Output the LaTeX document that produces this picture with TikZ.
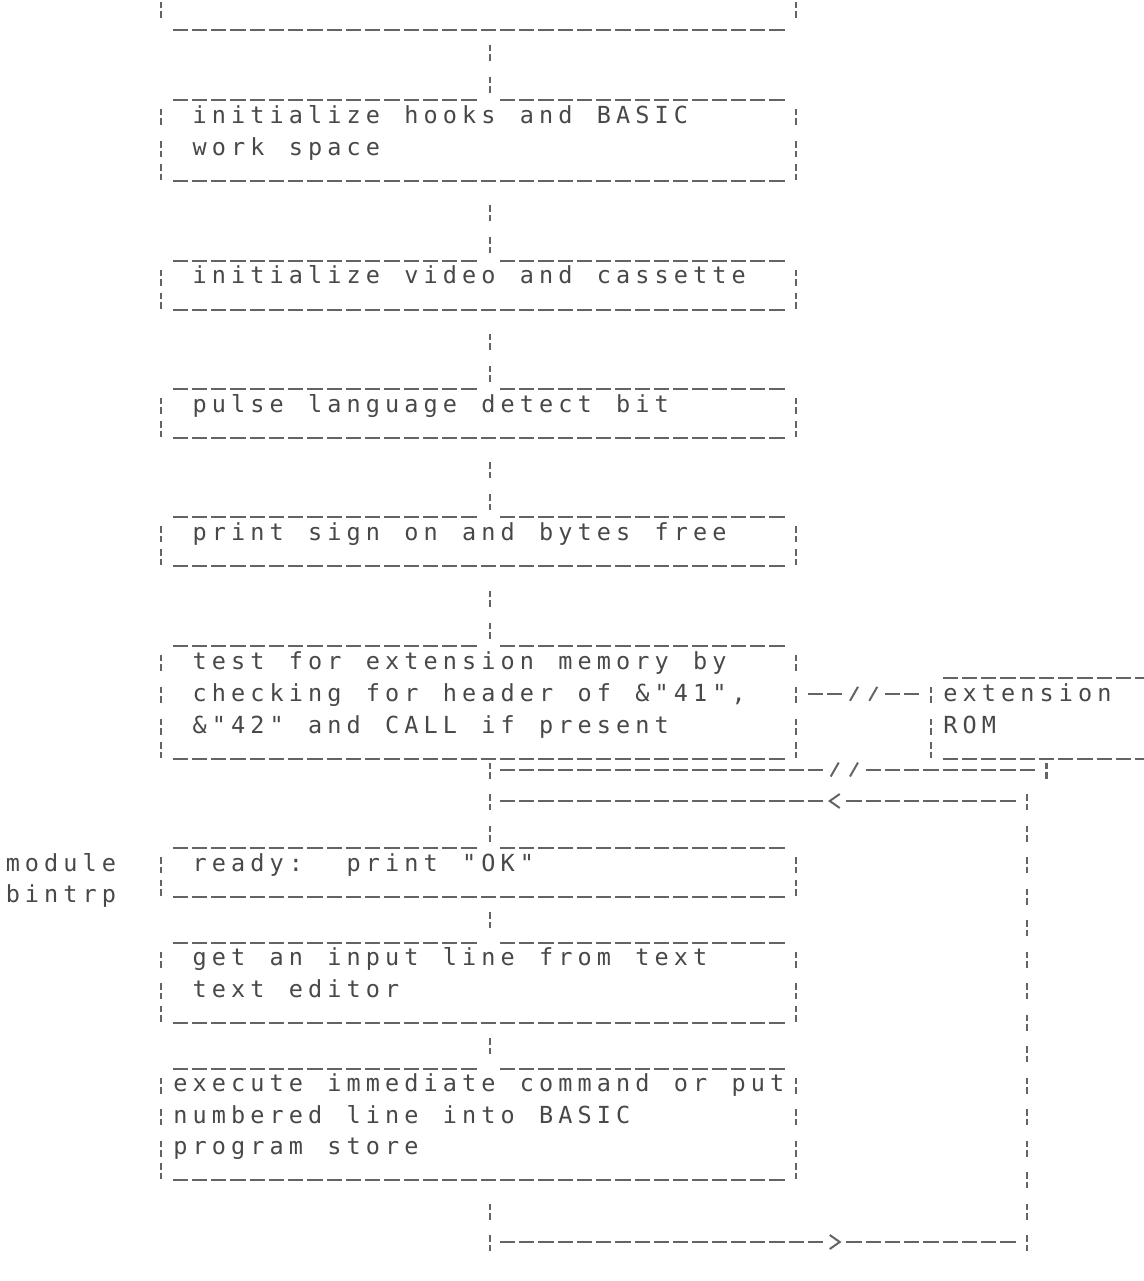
\documentclass[tikz,border=0pt]{standalone}
\usepackage{fontspec}
\newfontfamily\dmfont{DejaVu Sans Mono}
\definecolor{ink}{RGB}{72,72,72}
\definecolor{lineink}{RGB}{100,100,100}
\newlength\cellw \setlength\cellw{19.25pt}
\def\dmend{DMEND}
\def\dmtext#1{\dmloop#1\dmend}
\def\dmloop#1{\ifx#1\dmend\else\makebox[\cellw][c]{#1}\expandafter\dmloop\fi}
\pgfmathdeclarefunction{gx}{1}{\pgfmathparse{161+19.25*(#1)}}
\pgfmathdeclarefunction{uy}{1}{\pgfmathparse{117+32.1*(#1)}}
\pgfmathdeclarefunction{ly}{1}{\pgfmathparse{802+31.5*(#1)}}
\tikzset{
  vbar/.style={draw=lineink,line width=2.2pt},
  ul/.style={draw=lineink,line width=2pt,dash pattern=on 15.25pt off 4pt},
  dl/.style={draw=lineink,line width=2pt,dash pattern=on 15.25pt off 4pt},
  sl/.style={draw=lineink,line width=2pt},
  tx/.style={anchor=base west,inner sep=0pt,text=ink,font=\dmfont\fontsize{23.5}{23.5}\selectfont}
}
% broken bar: col, y
\newcommand\bbar[2]{\draw[vbar] ({gx(#1)},{(#2)-8}) -- ++(0,6.5) ({gx(#1)},{(#2)+1.5}) -- ++(0,6.5);}
% underscore line: y, from col, to col
\newcommand\uline[3]{\draw[ul] ({gx(#2)-7.6},{#1}) -- ({gx(#3)+7.6},{#1});}
% dash line: y, from col, to col
\newcommand\dline[3]{\draw[dl] ({gx(#2)-7.6},{(#1)-1}) -- ({gx(#3)+7.6},{(#1)-1});}
% two slashes starting at col, y
\newcommand\slashes[2]{\draw[sl] ({gx(#1)-4},{(#2)+6}) -- ({gx(#1)+4},{(#2)-8}) ({gx(#1)+15.25},{(#2)+6}) -- ({gx(#1)+23.25},{(#2)-8});}
% text line: name, start col, y, text
\newcommand\txt[4]{\node[tx] (#1) at ({gx(#2)-9.625},{(#3)+6.4}) {\dmtext{#4}};}
% connector bar (main flow column)
\newcommand\cbar[1]{\draw[vbar] ({gx(17)+2},{(#1)-8}) -- ++(0,6.5) ({gx(17)+2},{(#1)+1.5}) -- ++(0,6.5);}
% split top line
\newcommand\topline[1]{\uline{#1}{1}{16}\uline{#1}{18}{32}}
\begin{document}
\begin{tikzpicture}[x=1pt,y=-1pt]
\useasboundingbox (0,0) rectangle (1143,1281);
% ---------- upper part ----------
% box 1 (cut off)
\bbar{0}{10}\bbar{33}{10}
\uline{30}{1}{32}
\cbar{uy(-2)}\cbar{uy(-1)}
% box 2
\topline{uy(0)-17}
\foreach \yy in {uy(0),uy(1),uy(2)-9}{\bbar{0}{\yy}\bbar{33}{\yy}}
\uline{uy(2)}{1}{32}
\txt{t1}{2}{uy(0)}{initialize~hooks~and~BASIC}
\txt{t2}{2}{uy(1)}{work~space}
\cbar{uy(3)}\cbar{uy(4)}
% box 3
\topline{uy(5)-17}
\foreach \yy in {uy(5),uy(6)-9}{\bbar{0}{\yy}\bbar{33}{\yy}}
\uline{uy(6)}{1}{32}
\txt{t3}{2}{uy(5)}{initialize~video~and~cassette}
\cbar{uy(7)}\cbar{uy(8)}
% box 4
\topline{uy(9)-17}
\foreach \yy in {uy(9),uy(10)-9}{\bbar{0}{\yy}\bbar{33}{\yy}}
\uline{uy(10)}{1}{32}
\txt{t4}{2}{uy(9)}{pulse~language~detect~bit}
\cbar{uy(11)}\cbar{uy(12)}
% box 5
\topline{uy(13)-17}
\foreach \yy in {uy(13),uy(14)-9}{\bbar{0}{\yy}\bbar{33}{\yy}}
\uline{uy(14)}{1}{32}
\txt{t5}{2}{uy(13)}{print~sign~on~and~bytes~free}
\cbar{uy(15)}\cbar{uy(16)}
% box 6
\topline{uy(17)-17}
\foreach \yy in {uy(17),uy(18),uy(19),uy(20)-9}{\bbar{0}{\yy}\bbar{33}{\yy}}
\uline{uy(20)}{1}{32}
\txt{t6}{2}{uy(17)}{test~for~extension~memory~by}
\txt{t7}{2}{uy(18)}{checking~for~header~of~\&"41",}
\txt{t8}{2}{uy(19)}{\&"42"~and~CALL~if~present}
% extension ROM box
\uline{uy(18)-17}{41}{51}
\foreach \yy in {uy(18),uy(19),uy(20)-9}{\bbar{40}{\yy}}
\uline{uy(20)}{41}{51}
\txt{r1}{41}{uy(18)}{extension}
\txt{r2}{41}{uy(19)}{ROM}
% link to ROM
\dline{uy(18)}{34}{35}
\slashes{36}{uy(18)}
\dline{uy(18)}{38}{39}
% ---------- lower part ----------
% return from ROM
\cbar{ly(-1)}
\dline{ly(-1)}{18}{34}
\slashes{35}{ly(-1)}
\dline{ly(-1)}{37}{45}
\bbar{46}{ly(-1)}
% loop back
\cbar{ly(0)}
\dline{ly(0)}{18}{34}
\draw[sl] ({gx(35)+5},{ly(0)-8}) -- ({gx(35)-5},{ly(0)-1}) -- ({gx(35)+5},{ly(0)+6});
\dline{ly(0)}{36}{44}
\foreach \k in {0,...,14}{\bbar{45}{ly(\k)}}
\cbar{ly(1)}
% box 7
\topline{ly(2)-17}
\foreach \yy in {ly(2),ly(3)-9}{\bbar{0}{\yy}\bbar{33}{\yy}}
\uline{ly(3)}{1}{32}
\txt{t9}{2}{ly(2)}{ready:~~print~"OK"}
\node[tx] (m1) at (3,{ly(2)+6.4}) {\dmtext{module}};
\node[tx] (m2) at (3,{ly(3)+6.4}) {\dmtext{bintrp}};
\cbar{ly(4)-8}
% box 8
\topline{ly(5)-17}
\foreach \yy in {ly(5),ly(6),ly(7)-9}{\bbar{0}{\yy}\bbar{33}{\yy}}
\uline{ly(7)}{1}{32}
\txt{t10}{2}{ly(5)}{get~an~input~line~from~text}
\txt{t11}{2}{ly(6)}{text~editor}
\cbar{ly(8)-8}
% box 9
\topline{ly(9)-17}
\foreach \yy in {ly(9),ly(10),ly(11),ly(12)-9}{\bbar{0}{\yy}\bbar{33}{\yy}}
\uline{ly(12)}{1}{32}
\txt{t12}{1}{ly(9)}{execute~immediate~command~or~put}
\txt{t13}{1}{ly(10)}{numbered~line~into~BASIC}
\txt{t14}{1}{ly(11)}{program~store}
\cbar{ly(13)}
% bottom return line
\cbar{ly(14)}
\dline{ly(14)}{18}{34}
\draw[sl] ({gx(35)-5},{ly(14)-8}) -- ({gx(35)+5},{ly(14)-1}) -- ({gx(35)-5},{ly(14)+6});
\dline{ly(14)}{36}{44}
\end{tikzpicture}
\end{document}
